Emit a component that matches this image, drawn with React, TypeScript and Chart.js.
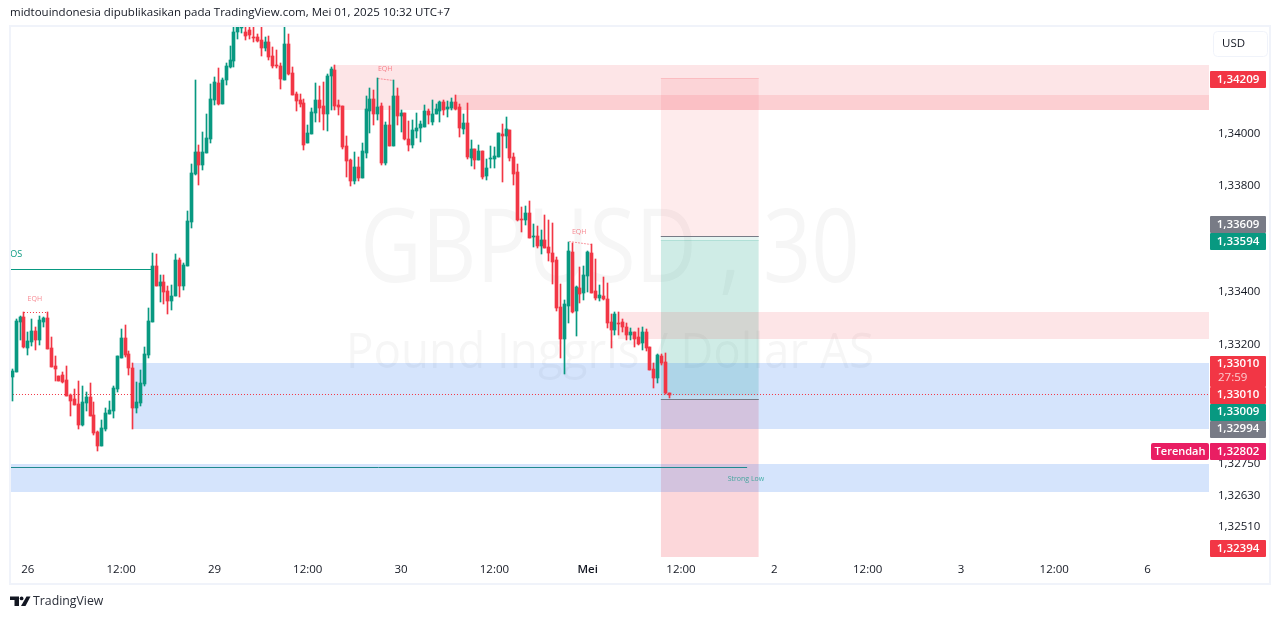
import React, { useEffect, useRef } from "react";
import { Chart, registerables } from "chart.js";

Chart.register(...registerables);

// OHLC in 1/100000 of a dollar (values above the pane top are clipped)
const highs = [
  133107,133296,133308,133324,133248,133297,133266,133308,133305,133324,
  133229,133157,133081,133097,133119,133013,133032,133063,133044,133021,
  133055,132983,132873,132915,132960,132987,133044,133157,133259,133274,
  133176,133131,133059,133104,133191,133339,133547,133543,133464,133464,
  133422,133426,133543,133528,133509,133706,133884,134202,133956,134005,
  134073,134187,134213,134247,134210,134266,134331,134420,134420,134420,
  134420,134420,134420,134376,134420,134365,134368,134327,134315,134266,
  134420,134376,134251,134157,134149,134130,134032,134096,134191,134179,
  134194,134225,134251,134259,134126,134103,133989,133902,133929,133910,
  133963,134141,134171,134163,134209,134114,134042,134103,134201,134171,
  134088,134076,134046,134050,134076,134046,134107,134092,134126,134111,
  134122,134126,134122,134133,134145,134111,134073,134114,133974,133940,
  133955,133933,133902,133952,133948,134001,134035,134061,134012,133925,
  133884,133721,133725,133744,133657,133649,133634,133691,133672,133660,
  133532,133430,133369,133588,133585,133422,133494,133498,133554,133581,
  133524,133426,133456,133433,133316,133324,133324,133297,133282,133263,
  133248,133263,133267,133259,133191,133131,133165,133165,133168,133017,
];
const lows = [
  132987,133097,133218,133189,133161,133195,133180,133199,133267,133184,
  133115,133063,133063,133055,133006,132930,132972,132881,132892,132949,
  132930,132858,132798,132817,132873,132938,132923,133021,133150,133153,
  133085,132881,132941,132968,133044,133150,133286,133422,133361,133354,
  133316,133331,133384,133380,133407,133498,133642,133843,133805,133861,
  133926,133964,134107,134107,134111,134183,134247,134251,134357,134380,
  134353,134357,134346,134346,134293,134312,134278,134247,134247,134168,
  134202,134221,134145,134085,134100,133937,133964,133998,134043,134043,
  134013,134009,134088,134088,134070,133940,133834,133800,133808,133819,
  133831,133906,134001,134031,134050,133880,133880,133952,133952,134031,
  134005,133974,133933,133944,133982,133967,134024,134035,134031,134073,
  134042,134069,134061,134088,134088,133986,133997,133902,133876,133865,
  133899,133827,133823,133868,133868,133910,133815,133944,133895,133804,
  133668,133626,133653,133604,133569,133566,133543,133566,133517,133430,
  133327,133150,133089,133282,133320,133233,133358,133369,133399,133395,
  133369,133365,133369,133263,133187,133237,133237,133248,133218,133218,
  133191,133199,133180,133176,133104,133036,133055,133123,133013,132998,
];
const opens = [
  133078,133097,133286,133305,133187,133210,133252,133218,133286,133301,
  133187,133119,133081,133085,133066,133010,132994,132975,132896,132979,
  133002,132934,132870,132817,132881,132938,132949,133032,133150,133225,
  133165,133112,132960,132979,133051,133161,133286,133498,133422,133437,
  133403,133365,133384,133520,133422,133498,133665,133846,133930,133880,
  133926,133979,134126,134191,134111,134202,134251,134274,134384,134399,
  134384,134391,134365,134365,134353,134323,134346,134293,134259,134255,
  134202,134338,134228,134149,134126,134115,133964,133998,134077,134126,
  134104,134073,134217,134240,134107,134103,133952,133899,133819,133872,
  133831,133925,134084,134129,134073,134103,133887,134031,133952,134141,
  134065,134076,133978,133955,134008,134020,134024,134084,134042,134073,
  134084,134118,134092,134095,134118,134099,134016,134039,133906,133940,
  133899,133933,133838,133902,133902,133910,133997,133989,134012,133910,
  133853,133675,133672,133698,133607,133611,133573,133596,133569,133547,
  133520,133342,133221,133346,133551,133327,133414,133395,133460,133547,
  133403,133377,133384,133373,133286,133255,133282,133286,133267,133237,
  133248,133229,133206,133248,133191,133108,133074,133157,133134,133017,
];
const closes = [
  133100,133290,133305,133191,133214,133252,133218,133293,133301,133184,
  133115,133108,133063,133059,133006,132987,132972,132896,132983,133002,
  132930,132866,132817,132885,132941,132953,133036,133157,133225,133161,
  133112,132960,132983,133055,133165,133290,133498,133422,133437,133399,
  133365,133384,133520,133422,133501,133668,133850,133930,133880,133930,
  133983,134130,134194,134111,134202,134255,134278,134384,134410,134404,
  134368,134372,134361,134350,134323,134346,134289,134255,134255,134206,
  134338,134225,134145,134123,134111,133956,134001,134081,134126,134096,
  134073,134217,134244,134104,134100,133948,133895,133819,133872,133831,
  133933,134092,134129,134073,134099,133887,134031,133952,134141,134065,
  134076,133978,133955,134012,134020,134035,134084,134069,134073,134092,
  134118,134088,134099,134118,134092,134020,134039,133910,133940,133899,
  133933,133834,133868,133906,133914,134001,133989,134016,133906,133846,
  133672,133672,133698,133604,133611,133573,133596,133566,133547,133513,
  133339,133221,133354,133554,133324,133418,133392,133464,133551,133395,
  133377,133388,133373,133282,133255,133316,133278,133267,133237,133248,
  133221,133202,133248,133187,133104,133074,133161,133131,133017,133010,
];

const xTickValues = [4, 28, 52, 76, 100, 124, 148, 172, 196, 220, 244, 268, 292];
const xTickLabels = ["26", "12:00", "29", "12:00", "30", "12:00", "Mei", "12:00", "2", "12:00", "3", "12:00", "6"];
const yTickValues = [1.34, 1.338, 1.334, 1.332, 1.3275, 1.3263, 1.3251];

// Zones: start bar, top price, bottom price (all run to the right edge)
const zoneStarts = [82.5, 114, 155.8, 31, -0.6, 166.8, 166.8, 166.8, 166.8];
const zoneEnds = [308, 308, 308, 308, 308, 192, 192, 192, 192];
const zoneTops = [1.34258, 1.34145, 1.33324, 1.33131, 1.32749, 1.34209, 1.33609, 1.33594, 1.32994];
const zoneBottoms = [1.34088, 1.34088, 1.33222, 1.32881, 1.32643, 1.33609, 1.33009, 1.32994, 1.32394];
const zoneFills = [
  "rgba(242,54,69,0.13)", "rgba(242,54,69,0.13)", "rgba(242,54,69,0.13)",
  "rgba(33,109,240,0.19)", "rgba(33,109,240,0.19)",
  "rgba(242,54,69,0.1)", "rgba(8,153,129,0.1)", "rgba(8,153,129,0.1)", "rgba(242,54,69,0.2)",
];

// Straight annotation lines: bar range and prices
const lineX0 = [-0.6, 3, 94, 143.2, -0.6, -0.6, 166.8, 166.8, 166.8, 166.8];
const lineX1 = [36.2, 9, 98, 148.8, 189, 308, 192, 192, 192, 192];
const lineP0 = [1.33485, 1.33323, 1.34208, 1.33589, 1.32736, 1.3301, 1.33609, 1.32994, 1.33594, 1.34209];
const lineP1 = [1.33485, 1.33323, 1.34199, 1.33581, 1.32736, 1.3301, 1.33609, 1.32994, 1.33594, 1.34209];
const lineColors = ["#089981", "#f23645", "rgba(242,54,69,0.5)", "rgba(242,54,69,0.5)", "#1f8a8f", "#f23645", "#787b86", "#787b86", "rgba(8,153,129,0.2)", "rgba(242,54,69,0.15)"];
const lineDashes = [[], [1, 2], [2, 1], [2, 1], [], [1, 2], [], [], [], []];

const noteTexts = ["OS", "EQH", "EQH", "EQH", "Strong Low"];
const noteBars = [1.0, 5.8, 95.9, 145.8, 188.7];
const notePrices = [1.3354, 1.33373, 1.34243, 1.33626, 1.32692];
const noteColors = ["#089981", "rgba(242,54,69,0.6)", "rgba(242,54,69,0.6)", "rgba(242,54,69,0.6)", "rgba(8,153,129,0.7)"];

const badgeTexts = ["1,34209", "1,33609", "1,33594", "1,33010", "1,33009", "1,32994", "1,32802", "1,32394"];
const badgeColors = ["#f23645", "#787b86", "#089981", "#f23645", "#089981", "#787b86", "#e91e63", "#f23645"];
const badgeCenters = [79.5, 224.5, 241.5, 395, 412, 429, 451.5, 548.5];

const FONT = '"Open Sans", "Noto Sans", sans-serif';
const UP = "#089981";
const DOWN = "#f23645";
const fmt = (v: number) => v.toFixed(5).replace(".", ",");

const crispPlugin = {
  id: "crisp",
  afterDatasetsUpdate(chart: any) {
    chart.data.datasets.forEach((ds: any, i: number) => {
      const elements = chart.getDatasetMeta(i).data;
      if (ds.type === "bar") {
        elements.forEach((el: any) => {
          el.x = Math.floor(el.x) + 0.5;
          const a = Math.round(el.y);
          let b = Math.round(el.base);
          if (a === b) b = a + 1;
          el.y = a;
          el.base = b;
          el.height = b - a;
        });
      } else if (ds.fill === false) {
        elements.forEach((el: any) => {
          el.y = Math.floor(el.y) + 0.5;
        });
      }
    });
  },
};

const backdropPlugin = {
  id: "backdrop",
  beforeDatasetsDraw(chart: any) {
    const { ctx, chartArea: a } = chart;
    ctx.save();
    ctx.beginPath();
    ctx.rect(a.left, a.top, a.right - a.left, a.bottom - a.top);
    ctx.clip();
    ctx.fillStyle = "rgba(19,23,34,0.04)";
    ctx.textAlign = "center";
    ctx.textBaseline = "alphabetic";
    ctx.save();
    ctx.translate(610, 282);
    ctx.scale(0.83, 1);
    ctx.font = `102px ${FONT}`;
    ctx.fillText("GBPUSD , 30", 0, 0);
    ctx.restore();
    ctx.save();
    ctx.translate(610, 368);
    ctx.scale(0.915, 1);
    ctx.font = `50px ${FONT}`;
    ctx.fillText("Pound Inggris / Dollar AS", 0, 0);
    ctx.restore();
    ctx.restore();
  },
};

const overlayPlugin = {
  id: "overlay",
  afterDatasetsDraw(chart: any) {
    const { ctx, chartArea: a, scales } = chart;
    ctx.save();
    ctx.beginPath();
    ctx.rect(a.left, a.top, a.right - a.left, a.bottom - a.top);
    ctx.clip();
    ctx.textBaseline = "middle";
    noteTexts.forEach((t, i) => {
      ctx.fillStyle = noteColors[i];
      ctx.textAlign = "center";
      ctx.font = `${i === 0 ? 9 : 7}px ${FONT}`;
      ctx.fillText(t, scales.x.getPixelForValue(noteBars[i]), scales.y.getPixelForValue(notePrices[i]));
    });
    ctx.restore();
  },
  afterDraw(chart: any) {
    const { ctx } = chart;
    ctx.save();
    // frame
    ctx.strokeStyle = "#f0f3fa";
    ctx.lineWidth = 2;
    ctx.strokeRect(10, 26, 1260, 558);
    // header
    ctx.fillStyle = "#131722";
    ctx.textAlign = "left";
    ctx.textBaseline = "middle";
    ctx.font = `11.5px ${FONT}`;
    ctx.fillText("midtouindonesia dipublikasikan pada TradingView.com, Mei 01, 2025 10:32 UTC+7", 10, 13);
    // currency button
    ctx.strokeStyle = "#f0f3fa";
    ctx.lineWidth = 1;
    ctx.beginPath();
    ctx.roundRect(1213.5, 31.5, 54, 25, 4);
    ctx.stroke();
    ctx.fillStyle = "#131722";
    ctx.fillText("USD", 1222, 44);
    // price badges
    ctx.textAlign = "center";
    badgeTexts.forEach((t, i) => {
      const h = 17;
      const cy = badgeCenters[i];
      ctx.fillStyle = badgeColors[i];
      ctx.beginPath();
      ctx.roundRect(1210, Math.round(cy - h / 2), 56, h, 1);
      ctx.fill();
      ctx.fillStyle = "#ffffff";
      ctx.font = `600 11.5px ${FONT}`;
      ctx.fillText(t, 1238, cy);
    });
    // last price block with countdown
    ctx.fillStyle = DOWN;
    ctx.beginPath();
    ctx.roundRect(1210, 356, 56, 31, 1);
    ctx.fill();
    ctx.fillStyle = "#ffffff";
    ctx.font = `600 11.5px ${FONT}`;
    ctx.fillText("1,33010", 1238, 364);
    ctx.fillStyle = "rgba(255,255,255,0.75)";
    ctx.textAlign = "left";
    ctx.font = `11.5px ${FONT}`;
    ctx.fillText("27:59", 1218, 378);
    // lowest label
    ctx.fillStyle = "#e91e63";
    ctx.beginPath();
    ctx.roundRect(1151, 443, 58, 17, 2);
    ctx.fill();
    ctx.fillStyle = "#ffffff";
    ctx.textAlign = "center";
    ctx.font = `600 11px ${FONT}`;
    ctx.fillText("Terendah", 1180, 451.5);
    // footer logo
    ctx.fillStyle = "#131722";
    ctx.beginPath();
    ctx.moveTo(10, 596.5); ctx.lineTo(19, 596.5); ctx.lineTo(19, 606); ctx.lineTo(14.5, 606);
    ctx.lineTo(14.5, 600); ctx.lineTo(10, 600); ctx.closePath();
    ctx.fill();
    ctx.beginPath();
    ctx.arc(21.6, 598.4, 1.9, 0, Math.PI * 2);
    ctx.fill();
    ctx.beginPath();
    ctx.moveTo(26.5, 596.5); ctx.lineTo(30.5, 596.5); ctx.lineTo(25.5, 606); ctx.lineTo(21, 606);
    ctx.closePath();
    ctx.fill();
    ctx.fillStyle = "#2a2e39";
    ctx.textAlign = "left";
    ctx.font = `12.3px ${FONT}`;
    ctx.fillText("TradingView", 33, 601.5);
    ctx.restore();
  },
};

export default function App() {
  const ref = useRef<HTMLCanvasElement | null>(null);
  useEffect(() => {
    const bars = opens.map((_, i) => i);
    const candleColors = bars.map((i) => (closes[i] >= opens[i] ? UP : DOWN));
    const zoneDatasets = zoneStarts.map((s, i) => ({
      type: "line",
      data: [{ x: s, y: zoneTops[i] }, { x: zoneEnds[i], y: zoneTops[i] }],
      fill: { value: zoneBottoms[i] },
      backgroundColor: zoneFills[i],
      borderWidth: 0,
      pointRadius: 0,
      order: 30 + i,
    }));
    const lineDatasets = lineX0.map((x, i) => ({
      type: "line",
      data: [{ x, y: lineP0[i] }, { x: lineX1[i], y: lineP1[i] }],
      fill: false,
      borderColor: lineColors[i],
      borderWidth: 1,
      borderDash: lineDashes[i],
      pointRadius: 0,
      order: 10 + i,
    }));
    const chart = new Chart(ref.current as HTMLCanvasElement, {
      type: "bar",
      data: {
        datasets: [
          ...zoneDatasets,
          ...lineDatasets,
          {
            type: "bar",
            grouped: false,
            barThickness: 1,
            data: bars.map((i) => ({ x: i, y: [lows[i] / 1e5, highs[i] / 1e5] })),
            backgroundColor: candleColors,
            borderWidth: 0,
            borderSkipped: false,
            order: 2,
          },
          {
            type: "bar",
            grouped: false,
            barThickness: 3,
            data: bars.map((i) => ({ x: i, y: [opens[i] / 1e5, closes[i] / 1e5] })),
            backgroundColor: candleColors,
            borderWidth: 0,
            borderSkipped: false,
            order: 1,
          },
        ] as any,
      },
      options: {
        responsive: false,
        animation: false,
        devicePixelRatio: 1,
        layout: { autoPadding: false, padding: { left: 10, top: 27, right: 0, bottom: 0 } },
        plugins: { legend: { display: false }, tooltip: { enabled: false }, title: { display: false } },
        events: [],
        scales: {
          x: {
            type: "linear",
            offset: false,
            min: -0.592,
            max: 307.8,
            grid: { display: false, drawTicks: false },
            border: { display: false },
            afterFit: (s: any) => { s.height = 62; },
            afterBuildTicks: (s: any) => { s.ticks = xTickValues.map((value) => ({ value })); },
            ticks: {
              autoSkip: false,
              maxRotation: 0,
              padding: 6,
              color: "#131722",
              font: (c: any) => ({ family: FONT, size: 11.5, weight: c.index === 6 ? "600" : "normal" }),
              callback: (_v: any, i: number) => xTickLabels[i],
            },
          },
          y: {
            type: "linear",
            position: "right",
            min: 1.32397,
            max: 1.344022,
            grid: { display: false, drawTicks: false },
            border: { display: false },
            afterFit: (s: any) => { s.width = 72; },
            afterBuildTicks: (s: any) => { s.ticks = yTickValues.map((value) => ({ value })); },
            ticks: {
              autoSkip: false,
              padding: 9,
              color: "#131722",
              font: { family: FONT, size: 11.5 },
              callback: (v: any) => fmt(Number(v)),
            },
          },
        },
      } as any,
      plugins: [crispPlugin, backdropPlugin, overlayPlugin],
    } as any);
    return () => chart.destroy();
  }, []);
  return (
    <canvas
      ref={ref}
      width={1281}
      height={619}
      style={{ position: "fixed", left: 0, top: 0, display: "block", width: 1281, height: 619, background: "#ffffff" }}
    />
  );
}
